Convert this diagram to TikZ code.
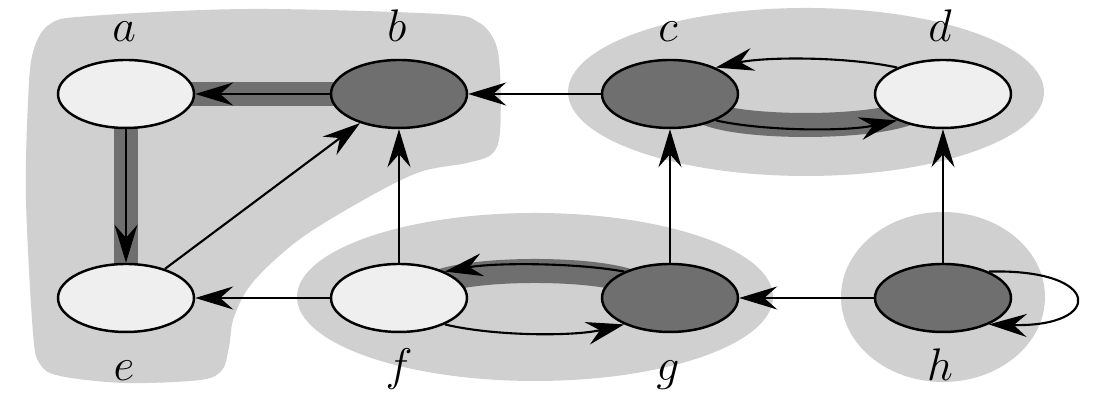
\RequirePackage{fix-cm}
\documentclass[tikz,border=0pt]{standalone}
\usetikzlibrary{arrows.meta, shapes.geometric, backgrounds}
\definecolor{sccfill}{gray}{0.815}
\definecolor{nodedark}{gray}{0.435}
\definecolor{nodelight}{gray}{0.937}
\tikzset{vtx/.style = {ellipse, draw, line width=0.7pt, minimum width=13.6mm, minimum height=6.8mm, inner sep=0pt}}
\tikzset{dk/.style = {vtx, fill=nodedark}, lt/.style = {vtx, fill=nodelight}}
\tikzset{arc/.style = {-{Stealth[length=3.8mm, width=2.3mm, inset=1.3mm]}, line width=0.6pt}}
\tikzset{tree/.style = {line width=2.4mm, draw=nodedark}}
\tikzset{tag/.style = {anchor=base, inner sep=0pt, font=\fontsize{13}{15}\selectfont}}

\begin{document}
\begin{tikzpicture}[x=0.1mm, y=0.1mm]
\useasboundingbox (0,0) rectangle (1098,402);
\node[lt] (a) at (126,308) {};
\node[dk] (b) at (399,308) {};
\node[dk] (c) at (670,308) {};
\node[lt] (d) at (943,308) {};
\node[lt] (e) at (126,104) {};
\node[lt] (f) at (399,104) {};
\node[dk] (g) at (670,104) {};
\node[dk] (h) at (943,104) {};
\node[tag] (la) at (124,360) {$a$};
\node[tag] (lb) at (397,360) {$b$};
\node[tag] (lc) at (668,360) {$c$};
\node[tag] (ld) at (940,360) {$d$};
\node[tag] (le) at (124,21) {$e$};
\node[tag] (lf) at (399,21) {$f$};
\node[tag] (lg) at (668,21) {$g$};
\node[tag] (lh) at (940,21) {$h$};
\begin{scope}[on background layer]
% components
\fill[sccfill] plot[smooth cycle, tension=0.55] coordinates {(26,202) (28,300) (33,350) (50,378) (90,386) (250,393) (440,388) (478,380) (495,360) (500,330) (500,270) (492,248) (467,239) (420,230) (367,204) (300,163) (253,120) (234,85) (229,55) (222,32) (200,22) (125,19) (60,26) (40,38) (33,69)};
\fill[sccfill] (806,310) ellipse [x radius=238, y radius=84];
\fill[sccfill] (535,105) ellipse [x radius=238, y radius=84];
\fill[sccfill] (943,105) ellipse [x radius=102, y radius=85];
% tree edges
\draw[tree] (b.center) -- (a.center);
\draw[tree] (a.center) -- (e.center);
\draw[tree] ([shift={(30,-16)}]c.center) .. controls +(30,-20) and +(-35,-20) .. ([shift={(-28,-16)}]d.center);
\draw[tree] ([shift={(-30,12)}]g.center) .. controls +(-30,20) and +(30,20) .. ([shift={(31,12)}]f.center);
\end{scope}
\draw[arc] (c) -- (b);
\draw[arc] (f) -- (b);
\draw[arc] (e) -- (b);
\draw[arc] (b) -- (a);
\draw[arc] (a) -- (e);
\draw[arc] (f) -- (e);
\draw[arc] (g) -- (c);
\draw[arc] (h) -- (d);
\draw[arc] (h) -- (g);
\draw[arc] (c.-30) .. controls +(50,-11) and +(-50,-11) .. (d.-150);
\draw[arc] (d.150) .. controls +(-50,11) and +(50,11) .. (c.30);
\draw[arc] (g.150) .. controls +(-50,9) and +(50,9) .. (f.30);
\draw[arc] (f.-30) .. controls +(50,-12) and +(-50,-12) .. (g.-150);
\draw[arc] (h.30) .. controls +(115,3) and +(115,-3) .. (h.-30);
\end{tikzpicture}
\end{document}
